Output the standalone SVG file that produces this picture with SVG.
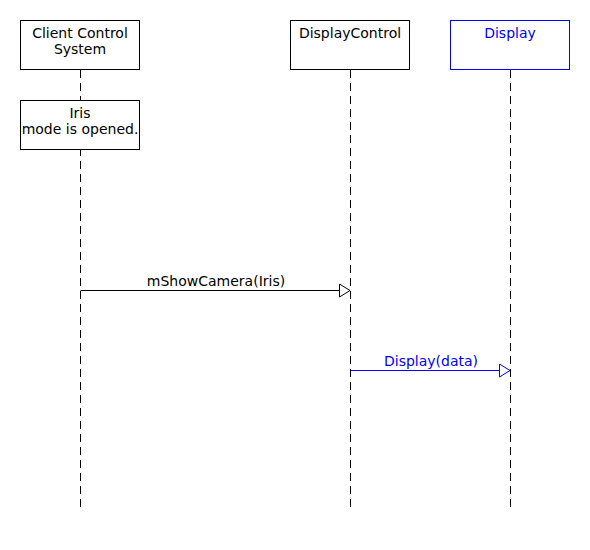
<svg xmlns="http://www.w3.org/2000/svg" width="590" height="550" viewBox="0 0 590 550">
<style>
text{font-family:"DejaVu Sans",sans-serif;font-size:14px;text-anchor:middle;fill:#000}
.box{fill:#fff;stroke:#000;stroke-width:1}
.life{stroke:#000;stroke-width:1;stroke-dasharray:8,5;fill:none}
.msg{stroke:#000;stroke-width:1;fill:none}
.blue{stroke:#0000ff}
.bt{fill:#0000ff}
</style>
<defs>
<marker id="tri" markerWidth="13" markerHeight="14" refX="11" refY="7" orient="auto" markerUnits="userSpaceOnUse">
<path d="M0.5,0.5 L11,7 L0.5,13.5 Z" fill="#fff" stroke="#000" stroke-width="1"/>
</marker>
<marker id="triB" markerWidth="13" markerHeight="14" refX="11" refY="7" orient="auto" markerUnits="userSpaceOnUse">
<path d="M0.5,0.5 L11,7 L0.5,13.5 Z" fill="#fff" stroke="#0000ff" stroke-width="1"/>
</marker>
</defs>
<rect width="590" height="550" fill="#fff"/>
<g id="lifelines">
<line class="life" x1="80.5" y1="70" x2="80.5" y2="510"/>
<line class="life" x1="350.5" y1="70" x2="350.5" y2="510"/>
<line class="life" x1="510.5" y1="70" x2="510.5" y2="510"/>
</g>
<g id="client">
<rect class="box" x="20.5" y="20.5" width="119" height="49"/>
<text x="80" y="38">Client Control</text>
<text x="80" y="54">System</text>
</g>
<g id="note">
<rect class="box" x="20.5" y="100.5" width="119" height="49"/>
<text x="80" y="118">Iris</text>
<text x="80" y="134">mode is opened.</text>
</g>
<g id="displaycontrol">
<rect class="box" x="290.5" y="20.5" width="119" height="49"/>
<text x="350" y="38">DisplayControl</text>
</g>
<g id="display">
<rect class="box blue" x="450.5" y="20.5" width="119" height="49"/>
<text class="bt" x="510" y="38">Display</text>
</g>
<g id="connectors">
<line class="msg" x1="80.5" y1="290.5" x2="350" y2="290.5" marker-end="url(#tri)"/>
<text x="216" y="286">mShowCamera(Iris)</text>
<line class="msg blue" x1="350.5" y1="370.5" x2="510" y2="370.5" marker-end="url(#triB)"/>
<text class="bt" x="431" y="366">Display(data)</text>
</g>
</svg>
